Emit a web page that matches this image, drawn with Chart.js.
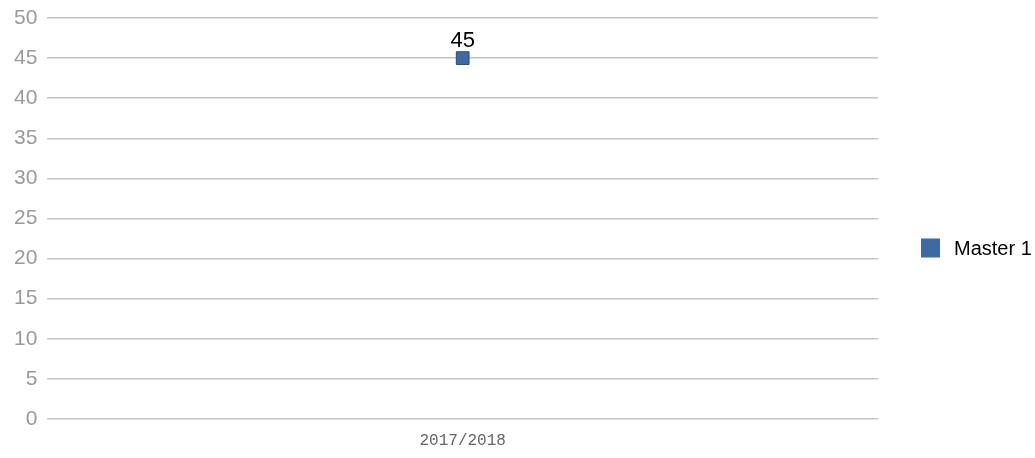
<!DOCTYPE html>
<html>
<head>
<meta charset="utf-8">
<script src="https://cdn.jsdelivr.net/npm/chart.js@4.4.1/dist/chart.umd.min.js"></script>
<style>
  html, body { margin: 0; padding: 0; background: #fff; }
  #wrap { width: 1035px; height: 458px; position: relative; }
</style>
</head>
<body>
<div id="wrap"><canvas id="c"></canvas></div>
<script>
// data
const categories = ['2017/2018'];
const seriesName = 'Master 1';
const seriesValues = [45];
const yTicks = { min: 0, max: 50, step: 5 };

const pointColor = '#3d6aa2';
const pointBorder = '#2c4c78';

// value labels above points
const valueLabels = {
  id: 'valueLabels',
  afterDatasetsDraw(chart) {
    const ctx = chart.ctx;
    const meta = chart.getDatasetMeta(0);
    ctx.save();
    ctx.font = '22px "Liberation Sans", Arial, sans-serif';
    ctx.fillStyle = '#000';
    ctx.textAlign = 'center';
    ctx.textBaseline = 'alphabetic';
    meta.data.forEach((pt, i) => {
      ctx.fillText(String(seriesValues[i]), pt.x, pt.y - 11);
    });
    ctx.restore();
  }
};

// legend on the right
const sideLegend = {
  id: 'sideLegend',
  afterDraw(chart) {
    const ctx = chart.ctx;
    const a = chart.chartArea;
    const cy = a.top + 230;
    const x = a.right + 43;
    ctx.save();
    ctx.fillStyle = pointColor;
    ctx.fillRect(x, cy - 9.5, 19, 19);
    ctx.font = '20px "Liberation Sans", Arial, sans-serif';
    ctx.fillStyle = '#000';
    ctx.textBaseline = 'middle';
    ctx.fillText(seriesName, x + 33, cy + 1);
    ctx.restore();
  }
};

new Chart(document.getElementById('c').getContext('2d'), {
  type: 'line',
  data: {
    labels: categories,
    datasets: [{
      label: seriesName,
      data: seriesValues,
      showLine: false,
      pointStyle: 'rect',
      pointRadius: 9,
      pointHoverRadius: 9,
      pointBackgroundColor: pointColor,
      pointBorderColor: pointBorder,
      pointBorderWidth: 1
    }]
  },
  options: {
    responsive: true,
    maintainAspectRatio: false,
    animation: false,
    layout: { padding: { left: 4, right: 157, top: 18, bottom: 0 } },
    plugins: { legend: { display: false }, tooltip: { enabled: false } },
    scales: {
      x: {
        offset: true,
        grid: { display: false, drawTicks: false },
        border: { display: false },
        afterFit(scale) { scale.height = 39; },
        ticks: {
          padding: 12,
          color: '#666',
          font: { family: '"Liberation Mono", "DejaVu Sans Mono", monospace', size: 16 }
        }
      },
      y: {
        min: yTicks.min,
        max: yTicks.max,
        border: { display: false },
        grid: { color: '#c4c4c4', lineWidth: 1.5, drawTicks: false },
        afterFit(scale) { scale.paddingTop = 0; scale.paddingBottom = 0; },
        ticks: {
          stepSize: yTicks.step,
          padding: 10,
          color: '#9a9a9a',
          font: { family: '"Liberation Sans", Arial, sans-serif', size: 21 }
        }
      }
    }
  },
  plugins: [valueLabels, sideLegend]
});
</script>
</body>
</html>
